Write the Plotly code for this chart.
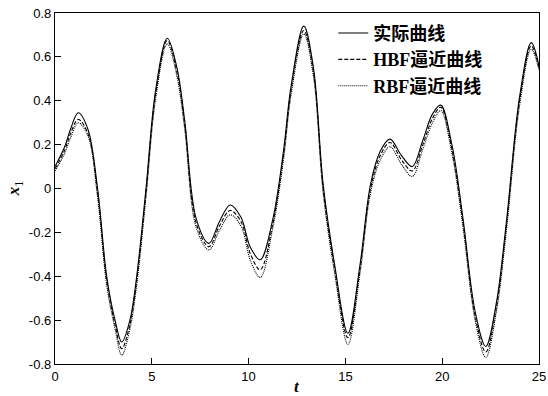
import plotly.graph_objects as go

t_vals = [0, 0.5, 0.8, 1.2, 1.7, 2.2, 2.67, 3.1, 3.45, 3.87, 4.22, 4.7, 5.2, 5.8, 6.3, 6.7, 7.3,
          7.95, 8.5, 9.05, 9.6, 10.1, 10.6, 11.25, 11.8, 12.2, 12.85, 13.35, 13.85, 14.45, 15.13,
          15.75, 16.3, 16.8, 17.3, 17.9, 18.45, 19.0, 19.5, 19.92, 20.5, 21.08, 21.7, 22.25, 22.8,
          23.33, 24.0, 24.6, 25.0]

actual = [0.10, 0.19, 0.27, 0.345, 0.27, 0.0, -0.40, -0.60, -0.70, -0.60, -0.40, 0.0, 0.45, 0.685,
          0.55, 0.31, -0.14, -0.25, -0.15, -0.075, -0.13, -0.27, -0.325, -0.14, 0.17, 0.47, 0.74,
          0.55, 0.02, -0.35, -0.66, -0.35, 0.02, 0.17, 0.225, 0.15, 0.10, 0.22, 0.34, 0.38, 0.20,
          -0.14, -0.56, -0.72, -0.52, -0.14, 0.42, 0.665, 0.56]

hbf = [0.09, 0.175, 0.25, 0.315, 0.25, -0.02, -0.42, -0.62, -0.73, -0.62, -0.42, -0.02, 0.43, 0.675,
       0.53, 0.29, -0.16, -0.265, -0.17, -0.10, -0.15, -0.30, -0.37, -0.16, 0.15, 0.45, 0.72,
       0.53, 0.0, -0.37, -0.68, -0.37, 0.0, 0.15, 0.21, 0.13, 0.08, 0.20, 0.32, 0.37, 0.18,
       -0.16, -0.58, -0.745, -0.54, -0.16, 0.40, 0.65, 0.55]

rbf = [0.08, 0.16, 0.23, 0.30, 0.24, -0.04, -0.44, -0.64, -0.76, -0.64, -0.44, -0.04, 0.41, 0.66,
       0.51, 0.27, -0.18, -0.28, -0.19, -0.12, -0.17, -0.33, -0.405, -0.18, 0.13, 0.43, 0.705,
       0.51, -0.02, -0.39, -0.71, -0.39, -0.02, 0.13, 0.19, 0.11, 0.055, 0.18, 0.30, 0.355, 0.16,
       -0.18, -0.60, -0.77, -0.56, -0.18, 0.38, 0.635, 0.54]

series_names = ["<b>实际曲线</b>", "<b>HBF逼近曲线</b>", "<b>RBF逼近曲线</b>"]
series_dash = ["solid", "4px,2px", "1px,1px"]
series_data = [actual, hbf, rbf]

x_ticks = [0, 5, 10, 15, 20, 25]
y_ticks = [-0.8, -0.6, -0.4, -0.2, 0, 0.2, 0.4, 0.6, 0.8]
y_tick_text = ["-0.8", "-0.6", "-0.4", "-0.2", "0", "0.2", "0.4", "0.6", "0.8"]

fig = go.Figure()
for name, dash, ys in zip(series_names, series_dash, series_data):
    fig.add_trace(go.Scatter(
        x=t_vals, y=ys, mode="lines", name=name,
        line=dict(color="black", width=1.1, dash=dash, shape="spline", smoothing=1.0),
    ))

axis_common = dict(
    showline=True, linecolor="black", linewidth=1.3, mirror=True,
    ticks="inside", ticklen=6, tickcolor="black", tickwidth=1,
    showgrid=False, zeroline=False, automargin=False,
    tickfont=dict(family="Liberation Sans, Arial", size=13, color="black"),
)

fig.update_layout(
    width=548, height=396,
    margin=dict(l=55, r=9, t=13, b=32),
    paper_bgcolor="white", plot_bgcolor="white",
    showlegend=True,
    legend=dict(
        x=0.575, y=0.995, xanchor="left", yanchor="top",
        bgcolor="rgba(0,0,0,0)", borderwidth=0,
        font=dict(family="Liberation Serif, Noto Sans CJK SC", size=18, color="black"),
        itemwidth=30, tracegroupgap=0,
    ),
    xaxis=dict(range=[0, 25], tickvals=x_ticks, **axis_common),
    yaxis=dict(range=[-0.8, 0.8], tickvals=y_ticks, ticktext=y_tick_text, **axis_common),
    annotations=[
        dict(text="<b><i>t</i></b>", xref="paper", yref="paper", x=0.5, y=-0.03,
             xanchor="center", yanchor="top", showarrow=False,
             font=dict(family="Liberation Serif", size=17, color="black")),
        dict(text="<b><i>x</i></b><sub>1</sub>", xref="paper", yref="paper", x=-0.083, y=0.5,
             xanchor="center", yanchor="middle", showarrow=False, textangle=-90,
             font=dict(family="Liberation Serif", size=17, color="black")),
    ],
)

fig.write_html("out.html", config={"displayModeBar": False},
               post_script="document.body.style.margin='0';")
